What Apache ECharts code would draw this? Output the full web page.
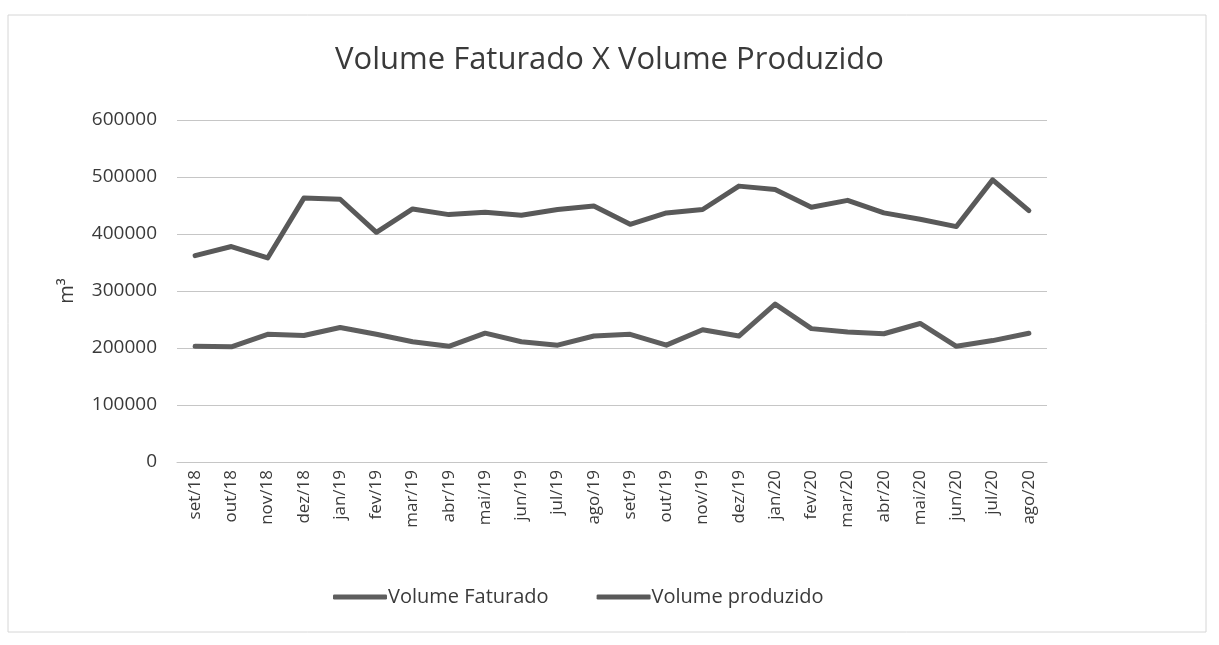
<!DOCTYPE html>
<html>
<head>
<meta charset="utf-8">
<script src="https://cdn.jsdelivr.net/npm/echarts@6/dist/echarts.min.js"></script>
<style>
html,body{margin:0;padding:0;background:#fff;}
#chart{width:1219px;height:645px;}
</style>
</head>
<body>
<div id="chart"></div>
<script>
var categories = ["set/18","out/18","nov/18","dez/18","jan/19","fev/19","mar/19","abr/19","mai/19","jun/19","jul/19","ago/19","set/19","out/19","nov/19","dez/19","jan/20","fev/20","mar/20","abr/20","mai/20","jun/20","jul/20","ago/20"];
var volumeFaturado = [203000,202000,224000,222000,236000,224000,211000,203000,226000,211000,205000,221000,224000,205000,232000,221000,277000,234000,228000,225000,243000,203000,213000,226000];
var volumeProduzido = [362000,378000,358000,463000,461000,403000,444000,434000,438000,433000,443000,449000,417000,437000,443000,484000,478000,447000,459000,437000,426000,413000,495000,441000];
var yTicks = [0,100000,200000,300000,400000,500000,600000];

var chart = echarts.init(document.getElementById('chart'));
var fontFam = '"Open Sans","Noto Sans","Liberation Sans",sans-serif';
chart.setOption({
  backgroundColor:'#fff',
  animation:false,
  graphic:[{
    type:'rect',
    shape:{x:8,y:15,width:1198,height:617},
    style:{fill:'none',stroke:'#d6d6d6',lineWidth:1},
    silent:true,
    z:-10
  }],
  title:{
    text:'Volume Faturado X Volume Produzido',
    left:'center',
    top:40,
    textStyle:{fontFamily:fontFam,fontSize:31,fontWeight:'normal',color:'#3a3a3a'}
  },
  legend:{
    data:['Volume Faturado','Volume produzido'],
    bottom:33,
    left:328,
    itemWidth:54,
    itemHeight:5,
    itemGap:48,
    icon:'roundRect',
    textStyle:{fontFamily:fontFam,fontSize:20,color:'#3a3a3a',padding:[0,0,0,-4]}
  },
  grid:{left:177,right:172,top:120,bottom:183,containLabel:false},
  xAxis:{
    type:'category',
    data:categories,
    boundaryGap:true,
    axisLine:{show:true,lineStyle:{color:'#c6c6c6',width:1}},
    axisTick:{show:false},
    axisLabel:{rotate:90,fontFamily:fontFam,fontSize:17,color:'#3a3a3a',margin:8,interval:0}
  },
  yAxis:{
    type:'value',
    min:yTicks[0],
    max:yTicks[yTicks.length-1],
    interval:yTicks[1]-yTicks[0],
    name:'m³',
    nameLocation:'middle',
    nameGap:100,
    nameRotate:90,
    nameTextStyle:{fontFamily:fontFam,fontSize:20,color:'#3a3a3a'},
    axisLine:{show:false},
    axisTick:{show:false},
    axisLabel:{fontFamily:fontFam,fontSize:19,color:'#3a3a3a',margin:20,formatter:function(v){return String(v);}},
    splitLine:{lineStyle:{color:'#c6c6c6',width:1}}
  },
  series:[
    {
      name:'Volume Faturado',
      type:'line',
      data:volumeFaturado,
      symbol:'none',
      lineStyle:{color:'#5e5e5e',width:5,cap:'round',join:'round'},
      itemStyle:{color:'#5e5e5e'}
    },
    {
      name:'Volume produzido',
      type:'line',
      data:volumeProduzido,
      symbol:'none',
      lineStyle:{color:'#595959',width:5,cap:'round',join:'round'},
      itemStyle:{color:'#595959'}
    }
  ]
});
</script>
</body>
</html>
